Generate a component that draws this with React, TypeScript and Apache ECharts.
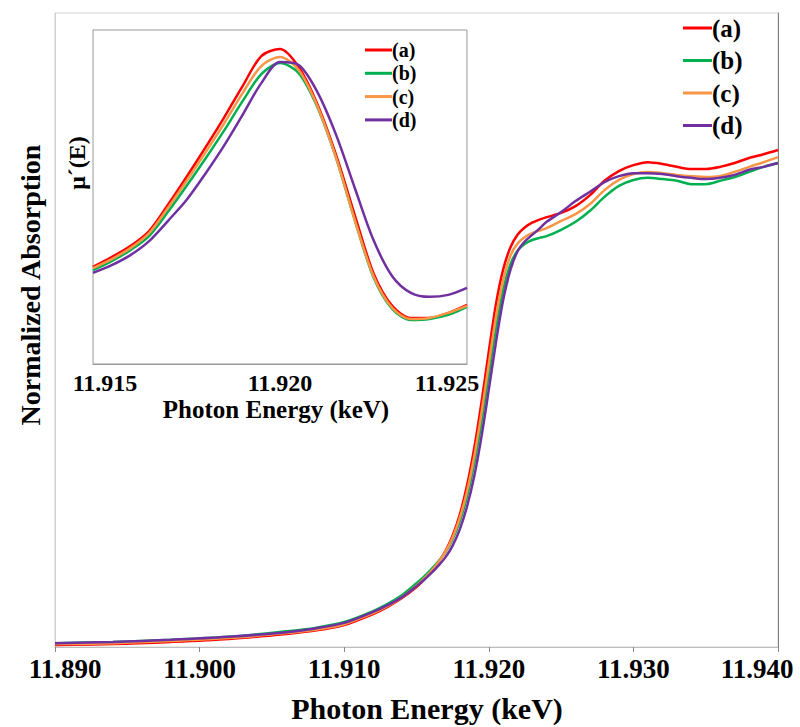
import React, { useEffect, useRef } from 'react';
import * as echarts from 'echarts';

const FONT = 'Liberation Serif';

const seriesNames = ['(a)', '(b)', '(c)', '(d)'];
const seriesColors = ['#FF0000', '#00B050', '#F79646', '#7030A0'];

// Main chart: photon energy (keV) vs normalized absorption
const mainEnergy = [11.890, 11.894, 11.898, 11.902, 11.906, 11.908, 11.910, 11.912, 11.913, 11.914,
  11.915, 11.9155, 11.916, 11.9165, 11.917, 11.9175, 11.918, 11.9185, 11.919, 11.9195, 11.920, 11.9205, 11.921, 11.9215, 11.922, 11.9225, 11.923, 11.9235, 11.924,
  11.925, 11.926, 11.927, 11.928, 11.929, 11.930, 11.931, 11.932, 11.933, 11.934, 11.935, 11.936, 11.937, 11.938, 11.939, 11.940];
const mainA = [0.005, 0.007, 0.012, 0.019, 0.031, 0.039, 0.052, 0.078, 0.095, 0.116,
  0.142, 0.159, 0.178, 0.200, 0.227, 0.264, 0.314, 0.383, 0.472, 0.580, 0.699, 0.812, 0.894, 0.946, 0.976, 0.993, 1.004, 1.011, 1.017,
  1.027, 1.043, 1.069, 1.103, 1.126, 1.140, 1.147, 1.143, 1.136, 1.131, 1.131, 1.136, 1.145, 1.157, 1.166, 1.176];
const mainB = [0.009, 0.012, 0.017, 0.024, 0.037, 0.045, 0.059, 0.085, 0.102, 0.123,
  0.151, 0.166, 0.183, 0.202, 0.224, 0.255, 0.298, 0.357, 0.435, 0.533, 0.645, 0.755, 0.846, 0.906, 0.938, 0.954, 0.963, 0.968, 0.972,
  0.987, 1.006, 1.032, 1.065, 1.091, 1.105, 1.110, 1.107, 1.103, 1.095, 1.095, 1.103, 1.112, 1.124, 1.136, 1.145];
const mainC = [0.007, 0.009, 0.014, 0.021, 0.033, 0.041, 0.054, 0.080, 0.097, 0.118,
  0.145, 0.161, 0.179, 0.200, 0.225, 0.259, 0.306, 0.369, 0.452, 0.555, 0.670, 0.782, 0.868, 0.926, 0.955, 0.970, 0.979, 0.985, 0.991,
  1.008, 1.024, 1.048, 1.081, 1.105, 1.119, 1.124, 1.121, 1.117, 1.114, 1.112, 1.114, 1.124, 1.136, 1.147, 1.159];
const mainD = [0.009, 0.012, 0.017, 0.024, 0.035, 0.044, 0.057, 0.083, 0.099, 0.118,
  0.144, 0.158, 0.174, 0.192, 0.212, 0.240, 0.279, 0.333, 0.405, 0.499, 0.609, 0.722, 0.822, 0.893, 0.937, 0.960, 0.975, 0.990, 1.006,
  1.029, 1.055, 1.077, 1.100, 1.114, 1.121, 1.121, 1.119, 1.114, 1.110, 1.107, 1.110, 1.117, 1.129, 1.136, 1.145];

// Inset: first derivative mu'(E)
const insetEnergy = [11.915, 11.9155, 11.916, 11.9165, 11.917, 11.9175, 11.918, 11.9185, 11.919, 11.9195, 11.920, 11.9205, 11.921, 11.9215, 11.922, 11.9225, 11.923, 11.9235, 11.924, 11.9245, 11.925];
const insetA = [0.291, 0.320, 0.353, 0.398, 0.476, 0.560, 0.647, 0.737, 0.832, 0.922, 0.943, 0.889, 0.778, 0.626, 0.446, 0.272, 0.174, 0.138, 0.138, 0.153, 0.177];
const insetB = [0.281, 0.308, 0.341, 0.383, 0.455, 0.533, 0.614, 0.698, 0.787, 0.868, 0.901, 0.871, 0.769, 0.617, 0.431, 0.260, 0.165, 0.132, 0.135, 0.147, 0.171];
const insetC = [0.287, 0.314, 0.347, 0.392, 0.467, 0.548, 0.632, 0.719, 0.811, 0.892, 0.919, 0.880, 0.772, 0.617, 0.431, 0.263, 0.168, 0.135, 0.138, 0.153, 0.174];
const insetD = [0.273, 0.296, 0.326, 0.368, 0.428, 0.491, 0.569, 0.653, 0.746, 0.841, 0.904, 0.895, 0.814, 0.686, 0.527, 0.371, 0.263, 0.213, 0.201, 0.207, 0.228];

const mainTickMin = 11.890;
const mainTickMax = 11.940;
const insetTickMin = 11.915;
const insetTickMax = 11.925;

const mainTitleX = 'Photon Energy (keV)';
const mainTitleY = 'Normalized Absorption';
const insetTitleX = 'Photon Energy (keV)';
const insetTitleY = 'μ´(E)';

export default function App() {
  const ref = useRef<HTMLDivElement>(null);

  useEffect(() => {
    const chart = echarts.init(ref.current!, null, { renderer: 'svg' });
    const mainSets = [mainA, mainB, mainC, mainD];
    const insetSets = [insetA, insetB, insetC, insetD];

    const near = (a: number, b: number) => Math.abs(a - b) < 1e-6;
    const labelFont = (size: number) => ({ fontFamily: FONT, fontWeight: 'bold' as const, fontSize: size, color: '#000' });

    const series: any[] = [];
    mainSets.forEach((vals, i) => {
      series.push({
        type: 'line', name: seriesNames[i], xAxisIndex: 0, yAxisIndex: 0,
        data: mainEnergy.map((e, k) => [e, vals[k]]),
        smooth: 0.3, symbol: 'none', color: seriesColors[i],
        lineStyle: { width: 2.5, color: seriesColors[i] },
      });
    });
    insetSets.forEach((vals, i) => {
      series.push({
        type: 'line', name: seriesNames[i], xAxisIndex: 1, yAxisIndex: 2,
        data: insetEnergy.map((e, k) => [e, vals[k]]),
        smooth: 0.3, symbol: 'none', color: seriesColors[i],
        lineStyle: { width: 2.5, color: seriesColors[i] },
      });
    });

    const option: any = {
      animation: false,
      backgroundColor: '#fff',
      grid: [
        { left: 55, top: 13, right: 22, bottom: 80, show: true, borderColor: '#d4d4d4', borderWidth: 1, backgroundColor: '#fff' },
        { left: 93, top: 30, width: 374, height: 334, show: true, borderColor: '#999', borderWidth: 1, backgroundColor: '#fff', z: 3 },
      ],
      xAxis: [
        {
          type: 'value', gridIndex: 0, min: mainTickMin, max: mainTickMax, interval: 0.01,
          axisLine: { show: true, lineStyle: { color: '#bdbdbd', width: 1 } },
          axisTick: { show: true, inside: false, length: 5, lineStyle: { color: '#888' } },
          splitLine: { show: false },
          axisLabel: {
            ...labelFont(27), margin: 8, showMinLabel: true, showMaxLabel: true,
            formatter: (v: number) => {
              const s = v.toFixed(3);
              if (near(v, mainTickMin)) return `{first|${s}}`;
              if (near(v, mainTickMax)) return `{last|${s}}`;
              return s;
            },
            rich: {
              first: { ...labelFont(27), padding: [0, 0, 0, 20] },
              last: { ...labelFont(27), padding: [0, 42, 0, 0] },
            },
          },
        },
        {
          type: 'value', gridIndex: 1, min: insetTickMin, max: insetTickMax, interval: 0.005,
          axisLine: { show: true, lineStyle: { color: '#999', width: 1 } },
          axisTick: { show: false },
          splitLine: { show: false },
          axisLabel: {
            ...labelFont(24), margin: 7, showMinLabel: true, showMaxLabel: true,
            formatter: (v: number) => {
              const s = v.toFixed(3);
              if (near(v, insetTickMin)) return `{first|${s}}`;
              if (near(v, insetTickMax)) return `{last|${s}}`;
              return s;
            },
            rich: {
              first: { ...labelFont(24), padding: [0, 0, 0, 24] },
              last: { ...labelFont(24), padding: [0, 40, 0, 0] },
            },
          },
        },
      ],
      yAxis: [
        {
          type: 'value', gridIndex: 0, min: 0, max: 1.5,
          axisLine: { show: true, lineStyle: { color: '#cfcfcf' } },
          axisTick: { show: false }, axisLabel: { show: false }, splitLine: { show: false },
        },
        {
          type: 'value', gridIndex: 0, position: 'right', min: 0, max: 1.5,
          axisLine: { show: true, lineStyle: { color: '#7f7f7f' } },
          axisTick: { show: false }, axisLabel: { show: false }, splitLine: { show: false },
        },
        {
          type: 'value', gridIndex: 1, min: 0, max: 1,
          axisLine: { show: true, lineStyle: { color: '#999' } },
          axisTick: { show: false }, axisLabel: { show: false }, splitLine: { show: false },
        },
      ],
      legend: [
        {
          data: seriesNames, orient: 'vertical', left: 683, top: 15, padding: 0, icon: 'rect',
          itemWidth: 29, itemHeight: 3, itemGap: 6.5, selectedMode: false,
          textStyle: { ...labelFont(25), lineHeight: 26, padding: [0, 0, 0, -5] },
        },
        {
          data: seriesNames, orient: 'vertical', left: 365, top: 40, padding: 0, icon: 'rect',
          itemWidth: 27, itemHeight: 3, itemGap: 3.3, selectedMode: false, z: 10,
          textStyle: { ...labelFont(20), lineHeight: 20, padding: [0, 0, 0, -5] },
        },
      ],
      graphic: [
        { type: 'text', x: 427, y: 708, z: 20, style: { text: mainTitleX, fontFamily: FONT, fontWeight: 'bold', fontSize: 30, fill: '#000', textAlign: 'center', textVerticalAlign: 'middle' } },
        { type: 'text', x: 30, y: 285, rotation: Math.PI / 2, z: 20, style: { text: mainTitleY, fontFamily: FONT, fontWeight: 'bold', fontSize: 28, fill: '#000', textAlign: 'center', textVerticalAlign: 'middle' } },
        { type: 'text', x: 276, y: 409, z: 20, style: { text: insetTitleX, fontFamily: FONT, fontWeight: 'bold', fontSize: 25, fill: '#000', textAlign: 'center', textVerticalAlign: 'middle' } },
        { type: 'text', x: 77, y: 163, rotation: Math.PI / 2, z: 20, style: { text: insetTitleY, fontFamily: FONT, fontWeight: 'bold', fontSize: 24, fill: '#000', textAlign: 'center', textVerticalAlign: 'middle' } },
      ],
      series,
    };

    chart.setOption(option);
    return () => chart.dispose();
  }, []);

  return <div ref={ref} style={{ position: 'absolute', left: 0, top: 0, width: 800, height: 727, background: '#fff' }} />;
}
